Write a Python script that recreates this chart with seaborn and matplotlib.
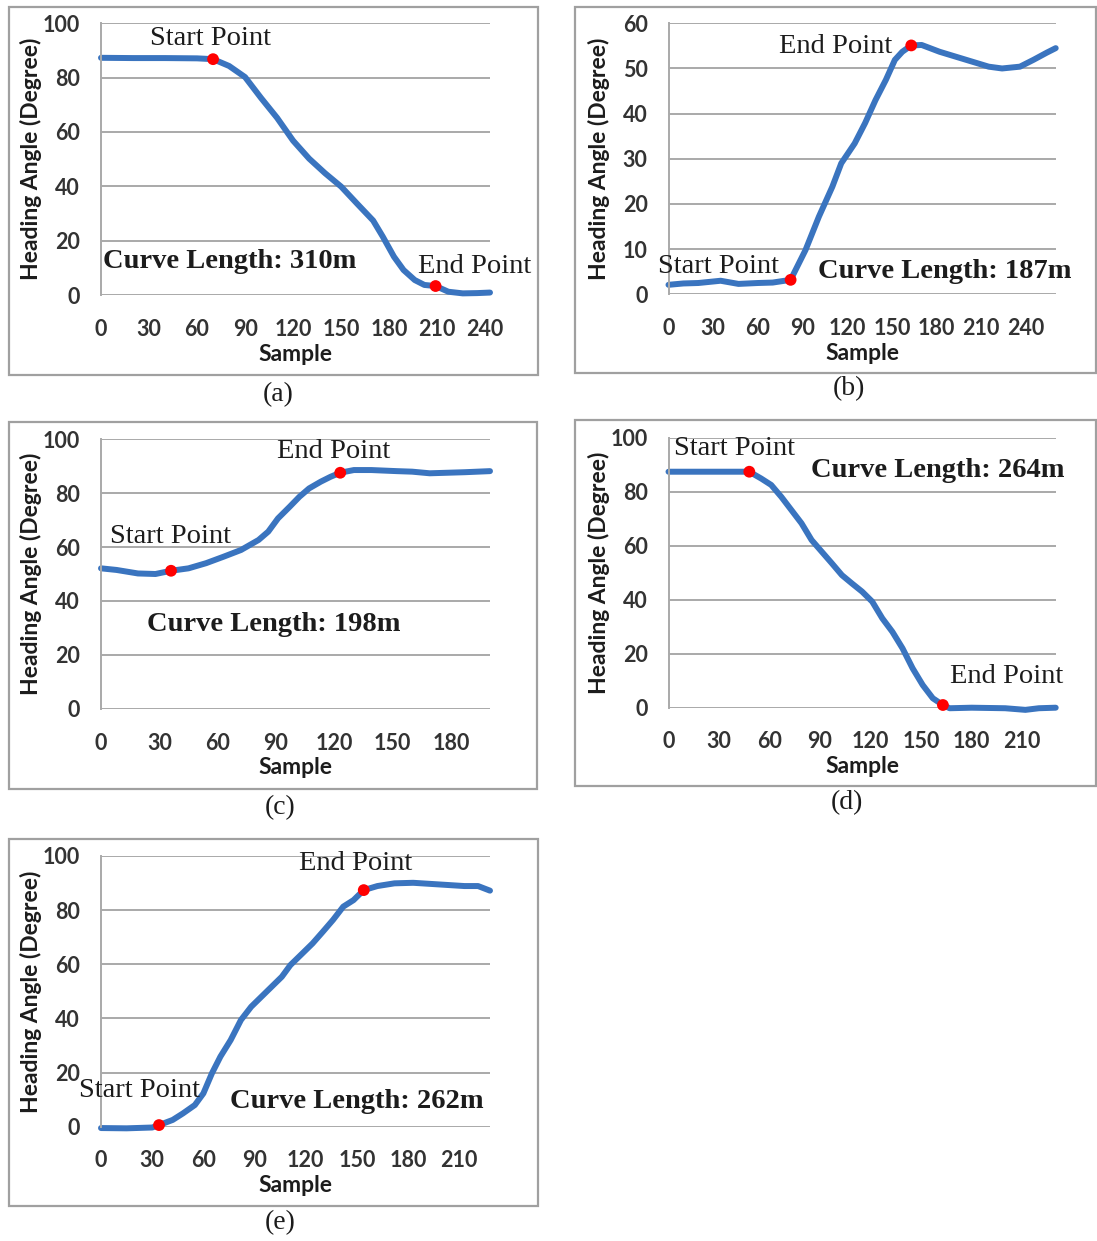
import matplotlib
matplotlib.use("Agg")
import matplotlib.pyplot as plt
from matplotlib.patches import Rectangle
import seaborn as sns

# ---------------- data: heading angle vs. sample index ----------------
sample_a = [0, 20, 40, 60, 70, 80, 90, 100, 110, 120, 130, 140, 150, 160, 170,
            176, 183, 189, 196, 202, 209, 217, 226, 235, 243]
heading_a = [87.3, 87.2, 87.2, 87.1, 86.8, 84.3, 80.2, 72.5, 65.2, 56.8, 50.2,
             44.8, 39.9, 33.6, 27.4, 21.5, 14.1, 9.2, 5.5, 3.7, 3.3, 1.2, 0.6, 0.7, 0.9]
start_a = [70, 86.8]
end_a = [209, 3.3]

sample_b = [0, 10, 20, 35, 47, 60, 70, 82, 92, 101, 110, 116, 125, 132, 139, 146,
            152, 157, 163, 170, 182, 193, 204, 215, 224, 236, 245, 254, 260]
heading_b = [2.1, 2.4, 2.5, 3.0, 2.3, 2.5, 2.6, 3.2, 9.8, 17.2, 23.8, 29.0, 33.4,
             37.9, 43.0, 47.5, 51.9, 53.7, 55.1, 55.2, 53.7, 52.6, 51.5, 50.4, 50.0,
             50.4, 51.9, 53.5, 54.5]
start_b = [82, 3.2]
end_b = [163, 55.1]

sample_c = [0, 8, 19, 28, 36, 45, 54, 63, 72, 81, 86, 91, 97, 102, 107, 113, 118,
            123, 130, 139, 152, 160, 169, 178, 187, 200]
heading_c = [52.1, 51.5, 50.2, 50.0, 51.2, 52.1, 54.0, 56.4, 58.9, 62.6, 65.7, 70.6,
             74.9, 78.6, 81.7, 84.2, 86.0, 87.5, 88.5, 88.5, 88.1, 87.9, 87.3, 87.5,
             87.7, 88.1]
start_c = [36, 51.2]
end_c = [123, 87.5]

sample_d = [0, 25, 48, 55, 61, 67, 73, 79, 85, 91, 97, 103, 109, 115, 121, 127, 133,
            139, 145, 151, 157, 163, 167, 180, 200, 212, 220, 230]
heading_d = [87.4, 87.4, 87.4, 84.9, 82.5, 78.1, 73.2, 68.3, 62.1, 57.8, 53.5, 49.1,
             46.0, 43.0, 39.3, 33.1, 28.1, 22.0, 14.6, 8.4, 3.5, 1.0, -0.2, 0.0, -0.2,
             -0.8, -0.2, 0.0]
start_d = [48, 87.4]
end_d = [163, 1.0]

sample_e = [0, 15, 30, 34, 42, 48, 55, 60, 65, 70, 76, 82, 88, 94, 100, 106, 111, 118,
            124, 130, 136, 142, 148, 154, 162, 172, 183, 193, 203, 213, 221, 228]
heading_e = [-0.5, -0.6, -0.3, 0.6, 2.5, 4.9, 8.0, 12.3, 19.7, 25.9, 32.0, 39.4, 44.3,
             48.0, 51.7, 55.4, 59.7, 64.0, 67.7, 72.0, 76.4, 81.3, 83.7, 87.4, 88.9,
             89.9, 90.1, 89.7, 89.3, 88.9, 88.9, 87.2]
start_e = [34, 0.6]
end_e = [154, 87.4]

curve_lengths = ["310m", "187m", "198m", "264m", "262m"]
panel_tags = ["(a)", "(b)", "(c)", "(d)", "(e)"]
y_ticks_deg = [[0, 20, 40, 60, 80, 100], [0, 10, 20, 30, 40, 50, 60],
               [0, 20, 40, 60, 80, 100], [0, 20, 40, 60, 80, 100],
               [0, 20, 40, 60, 80, 100]]

# ---------------- style ----------------
sns.set_style("white")
plt.rcParams["font.family"] = ["Lato", "DejaVu Sans"]
SERIF = ["Liberation Serif", "DejaVu Serif"]

LINE = "#3a74bf"
GRID = "#a9a9a9"
FRAME = "#a0a0a0"
TICK = "#333333"
INK = "#1c1c1c"

W, H = 1097, 1241
fig = plt.figure(figsize=(W / 100, H / 100), dpi=100)
fig.patch.set_facecolor("white")

# pixel layout: plot box (left, top, right, bottom), frame box, caption centre
layout = [
    dict(ax=(101, 23.3, 490, 295), frame=(8.6, 7, 538, 375), cap=(278, 395)),
    dict(ax=(668.5, 23.3, 1055.7, 294.3), frame=(575, 7, 1096, 373), cap=(849, 389)),
    dict(ax=(101, 439, 490, 709), frame=(8.6, 422, 537, 789), cap=(280, 808)),
    dict(ax=(668.5, 437.7, 1055.7, 707.7), frame=(575, 420, 1096, 786), cap=(847, 803)),
    dict(ax=(101, 856, 490, 1126.7), frame=(8.6, 839, 538, 1206), cap=(280, 1223)),
]

# label placement per panel, in data units: start text, end text, length text
notes = [
    dict(start=(30.6, 94.5), end=(198.3, 10.4), length=(1.5, 12.2)),
    dict(start=(-7, 6.1), end=(74.1, 54.8), length=(100.2, 5.0)),
    dict(start=(4.8, 63.8), end=(90.3, 95.3), length=(23.9, 31.2)),
    dict(start=(3.4, 96.0), end=(167, 11.5), length=(84.9, 88.0)),
    dict(start=(-12.7, 13.5), end=(115.8, 97.3), length=(75.5, 9.3)),
]

series = [
    (sample_a, heading_a, start_a, end_a),
    (sample_b, heading_b, start_b, end_b),
    (sample_c, heading_c, start_c, end_c),
    (sample_d, heading_d, start_d, end_d),
    (sample_e, heading_e, start_e, end_e),
]

tick_font = dict(fontsize=15.5, fontweight="bold", color=TICK)

for i, ((xs, ys, sp, ep), lay, note) in enumerate(zip(series, layout, notes)):
    l, t, r, b = lay["ax"]
    ax = fig.add_axes([l / W, 1 - b / H, (r - l) / W, (b - t) / H])
    ax.set_facecolor("none")

    sns.lineplot(x=xs, y=ys, ax=ax, color=LINE, linewidth=4.3, legend=False)
    for ln in ax.lines:
        ln.set_clip_on(False)
        ln.set_solid_capstyle("round")
        ln.set_solid_joinstyle("round")
    sns.scatterplot(x=[sp[0], ep[0]], y=[sp[1], ep[1]], ax=ax, color="#ff0000",
                    s=72, edgecolor="none", zorder=5, legend=False, clip_on=False)

    yt = y_ticks_deg[i]
    xt = list(range(0, xs[-1] + 1, 30))
    ax.set_xlim(0, xs[-1])
    ax.set_ylim(0, yt[-1])
    ax.set_yticks(yt, [str(v) for v in yt], **tick_font)
    ax.set_xticks(xt, [str(v) for v in xt], **tick_font)

    ax.yaxis.grid(True, color=GRID, linewidth=1.4)
    ax.xaxis.grid(False)
    ax.set_axisbelow(True)
    for side in ["top", "right", "bottom"]:
        ax.spines[side].set_visible(False)
    ax.spines["left"].set_color(GRID)
    ax.spines["left"].set_linewidth(1.4)

    ax.tick_params(axis="both", length=0)
    ax.tick_params(axis="x", pad=17)
    ax.tick_params(axis="y", pad=15)

    ax.set_xlabel("Sample", fontsize=16.5, fontweight="bold", color=INK)
    ax.set_ylabel("Heading Angle (Degree)", fontsize=16.5, fontweight="bold", color=INK)
    wpx, hpx = r - l, b - t
    ax.xaxis.set_label_coords(0.5, -59 / hpx)
    ax.xaxis.label.set_va("center")
    ax.yaxis.set_label_coords(-70 / wpx, 0.5)
    ax.yaxis.label.set_va("center")

    ax.text(*note["start"], "Start Point", ha="left", va="center",
            family=SERIF, fontsize=20.5, color=INK)
    ax.text(*note["end"], "End Point", ha="left", va="center",
            family=SERIF, fontsize=20.5, color=INK)
    ax.text(*note["length"], "Curve Length: " + curve_lengths[i], ha="left",
            va="center", family=SERIF, fontsize=20.5, fontweight="bold", color=INK)

    fx0, fy0, fx1, fy1 = lay["frame"]
    fig.add_artist(Rectangle((fx0 / W, 1 - fy1 / H), (fx1 - fx0) / W, (fy1 - fy0) / H,
                             transform=fig.transFigure, fill=False,
                             edgecolor=FRAME, linewidth=1.6))
    cx, cy = lay["cap"]
    fig.text(cx / W, 1 - cy / H, panel_tags[i], ha="center", va="center",
             family=SERIF, fontsize=20, color=INK)

fig.savefig("out.png", dpi=100, facecolor="white")
